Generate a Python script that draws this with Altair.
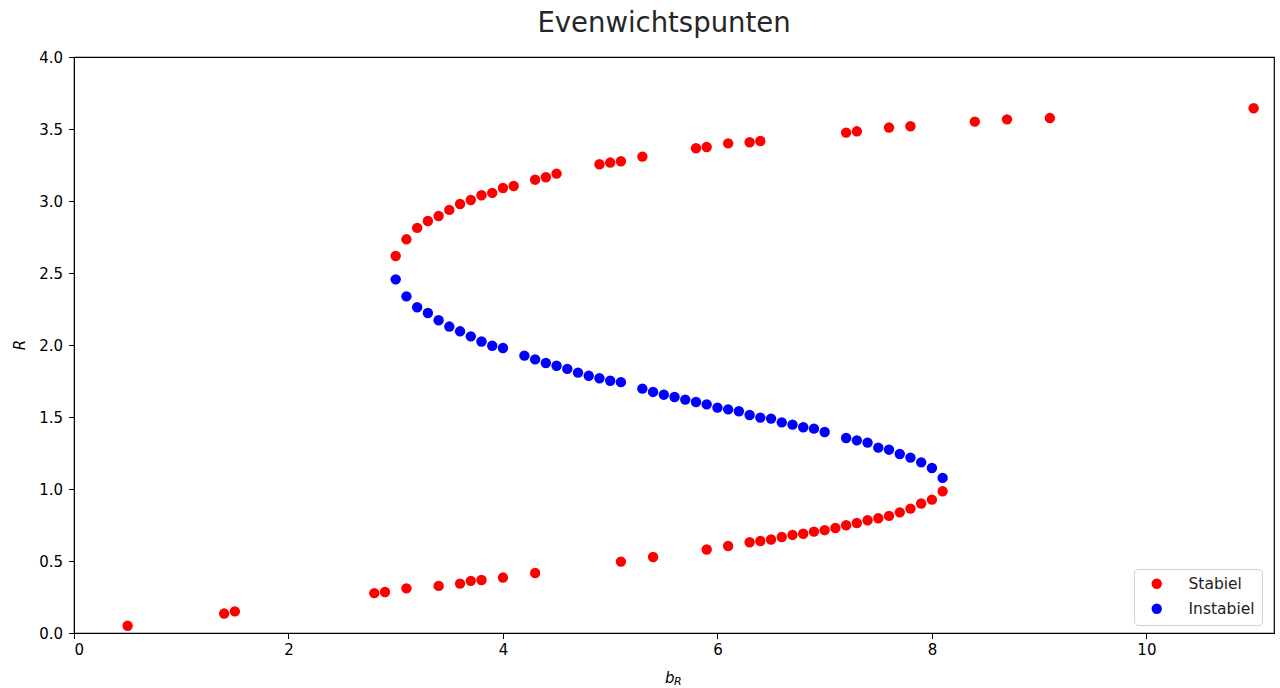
import altair as alt
import pandas as pd

# Stable equilibria (upper branch)
stab_up_x = [3.0, 3.1, 3.2, 3.3, 3.4, 3.5, 3.6, 3.7, 3.8, 3.9, 4.0, 4.1, 4.3, 4.4, 4.5,
             4.9, 5.0, 5.1, 5.3, 5.8, 5.9, 6.1, 6.3, 6.4, 7.2, 7.3, 7.6, 7.8, 8.4, 8.7, 9.1, 11.0]
stab_up_y = [2.618, 2.734, 2.813, 2.861, 2.896, 2.938, 2.979, 3.007, 3.040, 3.056, 3.090, 3.104,
             3.148, 3.165, 3.190, 3.255, 3.267, 3.276, 3.308, 3.366, 3.375, 3.400, 3.408, 3.417,
             3.475, 3.484, 3.510, 3.519, 3.551, 3.567, 3.576, 3.644]

# Stable equilibria (lower branch)
stab_lo_x = [0.5, 1.4, 1.5, 2.8, 2.9, 3.1, 3.4, 3.6, 3.7, 3.8, 4.0, 4.3, 5.1, 5.4, 5.9, 6.1,
             6.3, 6.4, 6.5, 6.6, 6.7, 6.8, 6.9, 7.0, 7.1, 7.2, 7.3, 7.4, 7.5, 7.6, 7.7, 7.8,
             7.9, 8.0, 8.1]
stab_lo_y = [0.050, 0.135, 0.150, 0.277, 0.285, 0.310, 0.327, 0.343, 0.362, 0.368, 0.385,
             0.417, 0.496, 0.528, 0.580, 0.604, 0.630, 0.639, 0.649, 0.667, 0.681, 0.689,
             0.704, 0.714, 0.729, 0.748, 0.764, 0.783, 0.797, 0.813, 0.838, 0.864, 0.899,
             0.926, 0.984]

# Unstable equilibria
inst_x = [3.0, 3.1, 3.2, 3.3, 3.4, 3.5, 3.6, 3.7, 3.8, 3.9, 4.0, 4.2, 4.3, 4.4, 4.5, 4.6,
          4.7, 4.8, 4.9, 5.0, 5.1, 5.3, 5.4, 5.5, 5.6, 5.7, 5.8, 5.9, 6.0, 6.1, 6.2, 6.3,
          6.4, 6.5, 6.6, 6.7, 6.8, 6.9, 7.0, 7.2, 7.3, 7.4, 7.5, 7.6, 7.7, 7.8, 7.9, 8.0, 8.1]
inst_y = [2.456, 2.338, 2.262, 2.222, 2.172, 2.128, 2.095, 2.060, 2.024, 1.995, 1.979, 1.926,
          1.900, 1.875, 1.856, 1.834, 1.808, 1.786, 1.769, 1.752, 1.742, 1.697, 1.674, 1.655,
          1.639, 1.621, 1.604, 1.588, 1.565, 1.553, 1.540, 1.514, 1.496, 1.489, 1.463, 1.447,
          1.429, 1.419, 1.396, 1.354, 1.338, 1.322, 1.287, 1.273, 1.243, 1.218, 1.185, 1.146,
          1.077]

x_ticks = [0, 2, 4, 6, 8, 10]
y_ticks = [0.0, 0.5, 1.0, 1.5, 2.0, 2.5, 3.0, 3.5, 4.0]

rows = []
for x, y in zip(stab_up_x + stab_lo_x, stab_up_y + stab_lo_y):
    rows.append({"bR": x, "R": y, "type": "Stabiel"})
for x, y in zip(inst_x, inst_y):
    rows.append({"bR": x, "R": y, "type": "Instabiel"})
df = pd.DataFrame(rows)

W, H = 1200, 576
FONT = "DejaVu Sans"
TICKF = 15

points = alt.Chart(df).mark_circle(size=108, opacity=1).encode(
    x=alt.X("bR:Q", scale=alt.Scale(domain=[0, 11.19], nice=False, zero=False),
            axis=alt.Axis(values=x_ticks, title=None, grid=False, labelFontSize=TICKF,
                          labelColor="#000", tickColor="#000", domainColor="#000",
                          tickSize=5.5, labelPadding=4, labelFont=FONT, format="d")),
    y=alt.Y("R:Q", scale=alt.Scale(domain=[0, 4.0], nice=False),
            axis=alt.Axis(values=y_ticks, title=None, grid=False, labelFontSize=TICKF,
                          labelColor="#000", tickColor="#000", domainColor="#000",
                          tickSize=5.5, labelPadding=6, labelFont=FONT, format=".1f")),
    color=alt.Color("type:N",
                    scale=alt.Scale(domain=["Stabiel", "Instabiel"], range=["#ff0000", "#0000ff"]),
                    legend=alt.Legend(title=None, orient="none", legendX=1060, legendY=512,
                                      labelFontSize=15.5, labelFont=FONT, labelColor="#222",
                                      symbolType="circle", symbolSize=108,
                                      padding=7, rowPadding=8, labelOffset=24,
                                      strokeColor="#d0d0d0", fillColor="#ffffff",
                                      cornerRadius=4, symbolOffset=8)),
)

lbl = pd.DataFrame({"t": [""]})
xb = alt.Chart(lbl).mark_text(text="b", fontSize=15, fontStyle="italic", font=FONT,
                              align="left", baseline="alphabetic", color="#000").encode(
    x=alt.value(591), y=alt.value(626))
xr = alt.Chart(lbl).mark_text(text="R", fontSize=11, fontStyle="italic", font=FONT,
                              align="left", baseline="alphabetic", color="#000").encode(
    x=alt.value(600), y=alt.value(628))
yl = alt.Chart(lbl).mark_text(text="R", fontSize=15, fontStyle="italic", font=FONT,
                              angle=270, align="center", baseline="alphabetic", color="#000").encode(
    x=alt.value(-49), y=alt.value(288))

chart = alt.layer(points, xb, xr, yl).properties(
    width=W, height=H,
    autosize=alt.AutoSizeParams(type="none"),
    padding={"left": 74, "top": 57, "right": 6, "bottom": 55},
    background="white",
    title=alt.TitleParams("Evenwichtspunten", fontSize=27.5, font=FONT, fontWeight="normal",
                          color="#262626", anchor="middle", offset=13, dx=-10),
).configure_view(stroke="#000", strokeWidth=1.2)

chart.save("out.html", embed_options={"renderer": "svg", "actions": False})
